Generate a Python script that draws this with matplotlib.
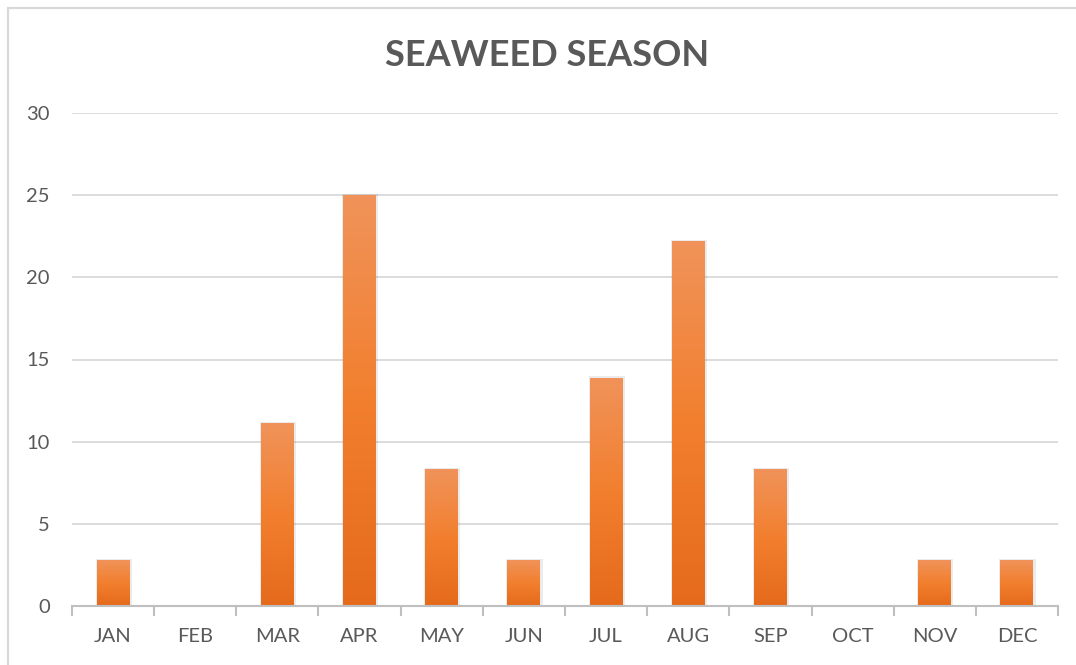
import matplotlib
matplotlib.use("Agg")
import matplotlib.pyplot as plt
import numpy as np
from matplotlib.patches import Rectangle
from matplotlib.colors import LinearSegmentedColormap

months = ["JAN", "FEB", "MAR", "APR", "MAY", "JUN", "JUL", "AUG", "SEP", "OCT", "NOV", "DEC"]
values = [2.78, 0, 11.11, 25.0, 8.33, 2.78, 13.89, 22.22, 8.33, 0, 2.78, 2.78]
yticks = [0, 5, 10, 15, 20, 25, 30]
title = "SEAWEED SEASON"

plt.rcParams['font.family'] = ['Lato', 'DejaVu Sans']

W, H = 1076, 665
fig = plt.figure(figsize=(W / 100, H / 100), dpi=100)
fig.patch.set_facecolor("white")

# outer frame (right and bottom edges run off the image)
fig.add_artist(Rectangle((7.5 / W, -10 / H), (W + 20) / W, (H - 7.5 + 10) / H,
                         transform=fig.transFigure, fill=False,
                         edgecolor="#D9D9D9", linewidth=1.6))

ax = fig.add_axes([72 / W, (H - 606) / H, (1058 - 72) / W, (606 - 113) / H])
x = np.arange(len(months))
bars = ax.bar(x, values, width=0.4, color="#ED7D31", zorder=3)

cmap = LinearSegmentedColormap.from_list("og", ["#E56A1C", "#F27F2E", "#F0935A"])
grad = np.linspace(0, 1, 256).reshape(-1, 1)
for b in bars:
    h = b.get_height()
    if h <= 0:
        continue
    x0 = b.get_x()
    w = b.get_width()
    # soft shadow
    ax.add_patch(Rectangle((x0 - 0.012, 0), w + 0.04, h + 0.08, facecolor="#000000", alpha=0.08,
                           edgecolor="none", zorder=2))
    im = ax.imshow(grad, extent=(x0, x0 + w, 0, h), origin="lower", cmap=cmap,
                   aspect="auto", zorder=4, interpolation="bicubic")
    im.set_clip_path(b)

ax.set_xlim(-0.5, len(months) - 0.5)
ax.set_ylim(0, 30)
ax.set_yticks(yticks)
ax.set_yticklabels([str(t) for t in yticks])
ax.set_xticks(x)
ax.set_xticklabels(months)
ax.grid(axis="y", color="#D9D9D9", linewidth=1.3, zorder=0)
ax.set_axisbelow(True)
for s in ["top", "right", "left"]:
    ax.spines[s].set_visible(False)
ax.spines["bottom"].set_color("#BFBFBF")
ax.spines["bottom"].set_linewidth(1.5)
ax.spines["bottom"].set_zorder(5)

ax.tick_params(axis="y", length=0, pad=16, labelsize=14.5, labelcolor="#595959")
ax.tick_params(axis="x", length=0, pad=16, labelsize=14.5, labelcolor="#595959")
# category boundary tick marks
ax.set_xticks(np.arange(-0.5, len(months), 1.0), minor=True)
ax.tick_params(axis="x", which="minor", length=7, width=1.5, color="#BFBFBF", direction="out")

fig.text(547 / W, (H - 55) / H, title, ha="center", va="center",
         fontsize=26, fontweight="bold", color="#595959")

fig.savefig("out.png", dpi=100, facecolor="white")
